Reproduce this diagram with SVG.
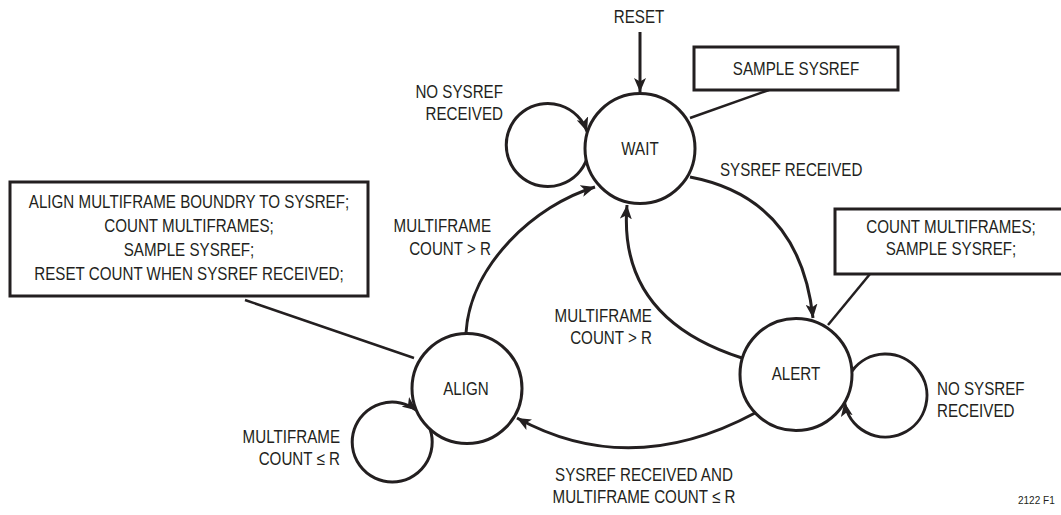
<svg xmlns="http://www.w3.org/2000/svg" width="1061" height="515" viewBox="0 0 1061 515">
<style>
text{font-family:"Liberation Sans",Arial,sans-serif;font-size:18.5px;fill:#231f20}
.st{fill:#fff;stroke:#231f20;stroke-width:3}
.box{fill:#fff;stroke:#231f20;stroke-width:3}
.c{fill:none;stroke:#231f20;stroke-width:3}
.ld{fill:none;stroke:#231f20;stroke-width:2.5}
.m{text-anchor:middle}
.e{text-anchor:end}
</style>
<defs>
<marker id="ah" markerUnits="userSpaceOnUse" markerWidth="16" markerHeight="12" refX="14" refY="6" orient="auto">
<path d="M0,0 L14,6 L0,12 L3.5,6 z" fill="#231f20"/>
</marker>
</defs>
<rect width="1061" height="515" fill="#fff"/>
<g id="connectors">
<line class="c" x1="640" y1="32" x2="640" y2="92" marker-end="url(#ah)"/>
<path class="c" d="M587,158.5 A41.5,41.5 0 1 1 587,131.5" marker-end="url(#ah)"/>
<path class="c" d="M690,177 Q800,198 813,318" marker-end="url(#ah)"/>
<path class="c" d="M742,358 C670,335 620,290 627,205" marker-end="url(#ah)"/>
<path class="c" d="M466,333 C470,265 535,205 595,187" marker-end="url(#ah)"/>
<path class="c" d="M755,413 Q630,480 517,418" marker-end="url(#ah)"/>
<path class="c" d="M430,429 A40,40 0 1 1 416.5,410.3" marker-end="url(#ah)"/>
<path class="c" d="M852,371 A41.5,41.5 0 1 1 844.5,402.3" marker-end="url(#ah)"/>
<line class="ld" x1="690" y1="118" x2="769" y2="90"/>
<line class="ld" x1="828" y1="325" x2="870" y2="274"/>
<line class="ld" x1="245" y1="300" x2="414" y2="358"/>
</g>
<g id="wait">
<circle class="st" cx="640" cy="148.5" r="55"/>
<text class="m" x="640" y="155" transform="matrix(0.82 0 0 1 115.2 0)">WAIT</text>
</g>
<g id="alert">
<circle class="st" cx="796" cy="374.5" r="56"/>
<text class="m" x="796" y="380" transform="matrix(0.82 0 0 1 143.28 0)">ALERT</text>
</g>
<g id="align">
<circle class="st" cx="467" cy="388.5" r="55"/>
<text class="m" x="466" y="395" transform="matrix(0.82 0 0 1 83.88 0)">ALIGN</text>
</g>
<g id="note-sample">
<rect class="box" x="694" y="47" width="204" height="43"/>
<text class="m" x="796" y="75" transform="matrix(0.82 0 0 1 143.28 0)">SAMPLE SYSREF</text>
</g>
<g id="note-alert">
<rect class="box" x="835" y="209" width="240" height="65"/>
<text class="m" x="951" y="233" transform="matrix(0.82 0 0 1 171.18 0)">COUNT MULTIFRAMES;</text>
<text class="m" x="951" y="255" transform="matrix(0.82 0 0 1 171.18 0)">SAMPLE SYSREF;</text>
</g>
<g id="note-align">
<rect class="box" x="10" y="182" width="358" height="114"/>
<text class="m" x="189" y="208" transform="matrix(0.82 0 0 1 34.02 0)">ALIGN MULTIFRAME BOUNDRY TO SYSREF;</text>
<text class="m" x="189" y="232" transform="matrix(0.82 0 0 1 34.02 0)">COUNT MULTIFRAMES;</text>
<text class="m" x="189" y="256" transform="matrix(0.82 0 0 1 34.02 0)">SAMPLE SYSREF;</text>
<text class="m" x="189" y="280" transform="matrix(0.82 0 0 1 34.02 0)">RESET COUNT WHEN SYSREF RECEIVED;</text>
</g>
<g id="labels">
<text class="m" x="639" y="23" transform="matrix(0.82 0 0 1 115.02 0)">RESET</text>
<text class="e" x="503" y="98" transform="matrix(0.82 0 0 1 90.54 0)">NO SYSREF</text>
<text class="e" x="503" y="120" transform="matrix(0.82 0 0 1 90.54 0)">RECEIVED</text>
<text x="720" y="176" transform="matrix(0.82 0 0 1 129.6 0)">SYSREF RECEIVED</text>
<text class="e" x="491" y="232" transform="matrix(0.82 0 0 1 88.38 0)">MULTIFRAME</text>
<text class="e" x="491" y="255" transform="matrix(0.82 0 0 1 88.38 0)">COUNT &gt; R</text>
<text class="e" x="652" y="322" transform="matrix(0.82 0 0 1 117.36 0)">MULTIFRAME</text>
<text class="e" x="652" y="344" transform="matrix(0.82 0 0 1 117.36 0)">COUNT &gt; R</text>
<text x="937" y="395" transform="matrix(0.82 0 0 1 168.66 0)">NO SYSREF</text>
<text x="937" y="417" transform="matrix(0.82 0 0 1 168.66 0)">RECEIVED</text>
<text class="e" x="340" y="443" transform="matrix(0.82 0 0 1 61.2 0)">MULTIFRAME</text>
<text class="e" x="340" y="465" transform="matrix(0.82 0 0 1 61.2 0)">COUNT ≤ R</text>
<text class="m" x="644" y="481" transform="matrix(0.82 0 0 1 115.92 0)">SYSREF RECEIVED AND</text>
<text class="m" x="644" y="503" transform="matrix(0.82 0 0 1 115.92 0)">MULTIFRAME COUNT ≤ R</text>
<text x="1018" y="504" style="font-size:10px">2122 F1</text>
</g>
</svg>
